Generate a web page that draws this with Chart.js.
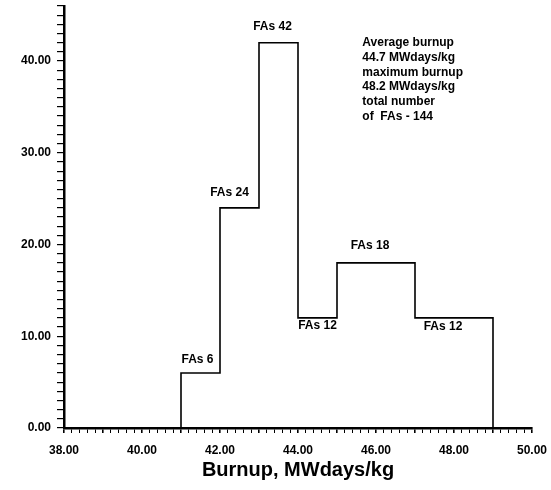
<!DOCTYPE html>
<html><head><meta charset="utf-8">
<script src="https://cdn.jsdelivr.net/npm/chart.js@4"></script>
<style>html,body{margin:0;padding:0;background:#fff}#w{width:551px;height:490px}</style>
</head>
<body><div id="w"><canvas id="c" width="551" height="490"></canvas></div>
<script>
// Data
const binEdges = [41, 42, 43, 44, 45, 47, 49];
const counts = [6, 24, 42, 12, 18, 12];
const barLabels = ['FAs 6', 'FAs 24', 'FAs 42', 'FAs 12', 'FAs 18', 'FAs 12'];
const noteLines = ['Average burnup', '44.7 MWdays/kg', 'maximum burnup', '48.2 MWdays/kg', 'total number', 'of  FAs - 144'];
const xTitle = 'Burnup, MWdays/kg';

// step outline built from bins
const stepPoints = [{x: binEdges[0], y: 0}];
counts.forEach((c, i) => stepPoints.push({x: binEdges[i], y: c}));
stepPoints.push({x: binEdges[binEdges.length - 1], y: 0});

const FONT = '"Liberation Sans", Arial, sans-serif';
// label placement style: pixel offsets relative to the bin top centre
const labelStyle = [
  {dx: -3, dy: -13}, {dx: -10, dy: -15}, {dx: -6, dy: -16},
  {dx: 0, dy: 8}, {dx: -6, dy: -17}, {dx: -11, dy: 9}
];

const textPlugin = {
  id: 'texts',
  afterDatasetsDraw(chart) {
    const {ctx, scales: {x, y}} = chart;
    ctx.save();
    ctx.fillStyle = '#000';
    ctx.font = 'bold 12px ' + FONT;
    ctx.textAlign = 'center';
    ctx.textBaseline = 'middle';
    counts.forEach((c, i) => {
      const cx = x.getPixelForValue((binEdges[i] + binEdges[i + 1]) / 2) + labelStyle[i].dx;
      const cy = y.getPixelForValue(c) + labelStyle[i].dy;
      ctx.fillText(barLabels[i], cx, cy);
    });
    // note block
    ctx.textAlign = 'left';
    const nx = x.getPixelForValue(45.65);
    const ny = y.getPixelForValue(42);
    noteLines.forEach((t, i) => ctx.fillText(t, nx, ny + i * 14.8));
    ctx.restore();
  }
};

const isMult = (v, m) => Math.abs(v - Math.round(v / m) * m) < 1e-6;

new Chart(document.getElementById('c'), {
  type: 'line',
  data: {
    datasets: [{
      data: stepPoints,
      stepped: 'before',
      borderColor: '#000',
      borderWidth: 1.6,
      pointRadius: 0,
      fill: false
    }]
  },
  options: {
    responsive: false,
    animation: false,
    devicePixelRatio: 1,
    layout: {padding: {top: 6, right: 19, left: 0, bottom: 0}},
    plugins: {legend: {display: false}, tooltip: {enabled: false}},
    scales: {
      x: {
        type: 'linear', min: 38, max: 50,
        afterFit(s) { s.height = 62; s.paddingRight = 0; s.paddingLeft = 0; },
        border: {display: true, color: '#000', width: 2.5},
        grid: {drawOnChartArea: false, drawTicks: true, tickLength: 5, color: '#000',
               lineWidth: (c) => isMult(c.tick.value, 1) ? 1.6 : 1},
        ticks: {
          stepSize: 0.2, autoSkip: false, maxRotation: 0, padding: 10,
          color: '#000', font: {family: FONT, size: 12, weight: 'bold'},
          callback: (v) => isMult(v, 2) ? v.toFixed(2) : ''
        },
        title: {display: true, text: xTitle, color: '#000',
                font: {family: FONT, size: 20, weight: 'bold'}, padding: {top: 0, bottom: 8}}
      },
      y: {
        type: 'linear', min: 0, max: 46,
        afterFit(s) { s.width = 64; s.paddingTop = 0; s.paddingBottom = 0; },
        border: {display: true, color: '#000', width: 2.5},
        grid: {drawOnChartArea: false, drawTicks: true, tickLength: 7, color: '#000', lineWidth: 1.2},
        ticks: {
          stepSize: 1, autoSkip: false, padding: 6,
          color: '#000', font: {family: FONT, size: 12, weight: 'bold'},
          callback: (v) => isMult(v, 10) ? v.toFixed(2) : ''
        }
      }
    }
  },
  plugins: [textPlugin]
});
</script>
</body></html>
